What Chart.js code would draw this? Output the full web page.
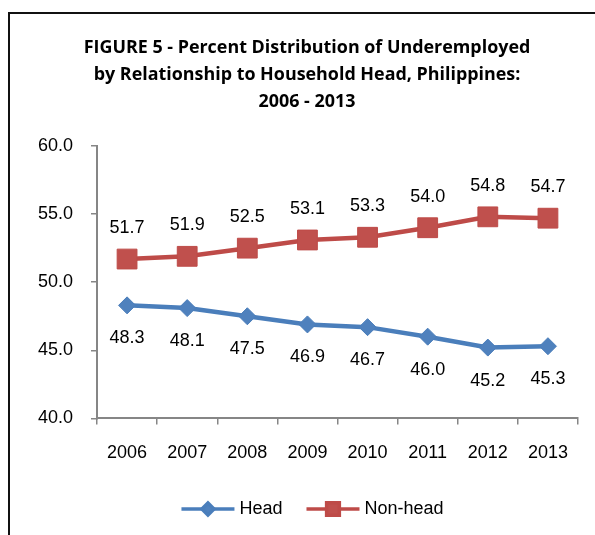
<!DOCTYPE html>
<html>
<head>
<meta charset="utf-8">
<script src="https://cdn.jsdelivr.net/npm/chart.js@4/dist/chart.umd.min.js"></script>
<style>
  html, body { margin: 0; padding: 0; background: #fff; }
  #wrap { width: 595px; height: 535px; position: relative; }
</style>
</head>
<body>
<div id="wrap"><canvas id="myChart" width="595" height="535"></canvas></div>
<script>
const years = ['2006', '2007', '2008', '2009', '2010', '2011', '2012', '2013'];
const head = [48.3, 48.1, 47.5, 46.9, 46.7, 46.0, 45.2, 45.3];
const nonHead = [51.7, 51.9, 52.5, 53.1, 53.3, 54.0, 54.8, 54.7];
const yTicks = [40, 45, 50, 55, 60];

const ctx = document.getElementById('myChart');
const axisColor = '#868686';
const labelFont = '18px "Liberation Sans", Arial, sans-serif';

// frame round the chart (right and bottom edges are cut off in the picture)
const framePlugin = {
    id: 'frame',
    beforeDraw(chart) {
        const c = chart.ctx;
        c.save();
        c.fillStyle = '#fff';
        c.fillRect(0, 0, chart.width, chart.height);
        c.strokeStyle = '#111';
        c.lineWidth = 2;
        c.beginPath();
        c.moveTo(9, chart.height + 2);
        c.lineTo(9, 13);
        c.lineTo(chart.width + 2, 13);
        c.stroke();
        c.restore();
    }
};

// value labels: Head below the points, Non-head above
const valueLabels = {
    id: 'valueLabels',
    afterDatasetsDraw(chart) {
        const c = chart.ctx;
        c.save();
        c.font = labelFont;
        c.fillStyle = '#000';
        c.textAlign = 'center';
        c.textBaseline = 'middle';
        chart.data.datasets.forEach(function (ds, i) {
            const meta = chart.getDatasetMeta(i);
            const shift = i === 0 ? 33 : -31;
            meta.data.forEach(function (pt, j) {
                c.fillText(ds.data[j].toFixed(1), pt.x, pt.y + shift);
            });
        });
        c.restore();
    }
};

// legend drawn as line + marker, like the original
const lineLegend = {
    id: 'lineLegend',
    afterDraw(chart) {
        const c = chart.ctx;
        const y = 509;
        const lineLen = 53, gapText = 5, gapItem = 24;
        c.save();
        c.font = labelFont;
        c.textBaseline = 'middle';
        const items = chart.data.datasets.map(function (ds) {
            return { ds: ds, w: lineLen + gapText + c.measureText(ds.label).width };
        });
        let total = items.reduce(function (s, it) { return s + it.w; }, 0) + gapItem * (items.length - 1);
        let x = (chart.width - total) / 2 + 15;
        items.forEach(function (it) {
            const ds = it.ds;
            c.strokeStyle = ds.borderColor;
            c.lineWidth = 3.5;
            c.beginPath();
            c.moveTo(x, y);
            c.lineTo(x + lineLen, y);
            c.stroke();
            c.fillStyle = ds.pointBackgroundColor;
            c.strokeStyle = ds.pointBorderColor;
            Chart.helpers.drawPoint(c, {
                pointStyle: ds.pointStyle,
                radius: ds.pointStyle === 'rect' ? 9 : 6,
                rotation: 0,
                borderWidth: 1
            }, x + lineLen / 2, y);
            c.fillStyle = '#000';
            c.textAlign = 'left';
            c.fillText(ds.label, x + lineLen + gapText, y);
            x += it.w + gapItem;
        });
        c.restore();
    }
};

const myChart = new Chart(ctx, {
    type: 'line',
    data: {
        labels: years,
        datasets: [
            {
                label: 'Head',
                data: head,
                borderColor: '#4A7EBB',
                borderWidth: 4.5,
                pointStyle: 'rectRot',
                pointRadius: 8.5,
                pointBackgroundColor: '#4F81BD',
                pointBorderColor: '#4A7EBB',
                pointBorderWidth: 1,
                tension: 0
            },
            {
                label: 'Non-head',
                data: nonHead,
                borderColor: '#BE4B48',
                borderWidth: 4.5,
                pointStyle: 'rect',
                pointRadius: 14,
                pointBackgroundColor: '#C0504D',
                pointBorderColor: '#BE4B48',
                pointBorderWidth: 1,
                tension: 0
            }
        ]
    },
    options: {
        responsive: false,
        animation: false,
        events: [],
        layout: {
            padding: { left: 36, right: 17, top: 20, bottom: 53 }
        },
        scales: {
            x: {
                offset: true,
                grid: {
                    offset: true,
                    drawOnChartArea: false,
                    drawTicks: true,
                    tickLength: 6,
                    color: axisColor,
                    lineWidth: 1.5
                },
                border: { color: axisColor, width: 2 },
                ticks: {
                    color: '#000',
                    font: { family: '"Liberation Sans", Arial, sans-serif', size: 18 },
                    padding: 18,
                    maxRotation: 0
                }
            },
            y: {
                min: 40,
                max: 60,
                afterFit(scale) { scale.width = 61; },
                afterBuildTicks(scale) {
                    scale.ticks = yTicks.map(function (v) { return { value: v }; });
                },
                grid: {
                    drawOnChartArea: false,
                    drawTicks: true,
                    tickLength: 6,
                    color: axisColor,
                    lineWidth: 1.5
                },
                border: { color: axisColor, width: 2 },
                ticks: {
                    color: '#000',
                    font: { family: '"Liberation Sans", Arial, sans-serif', size: 18 },
                    padding: 18,
                    callback: function (v) { return Number(v).toFixed(1); }
                }
            }
        },
        plugins: {
            legend: { display: false },
            tooltip: { enabled: false },
            title: {
                display: true,
                text: [
                    'FIGURE 5 - Percent Distribution of Underemployed',
                    'by Relationship to Household Head, Philippines:',
                    '2006 - 2013'
                ],
                color: '#000',
                font: { family: '"Open Sans", Lato, sans-serif', size: 17.9, weight: 'bold', lineHeight: 1.49 },
                padding: { top: 15, bottom: 31 }
            }
        }
    },
    plugins: [framePlugin, valueLabels, lineLegend]
});
</script>
</body>
</html>
